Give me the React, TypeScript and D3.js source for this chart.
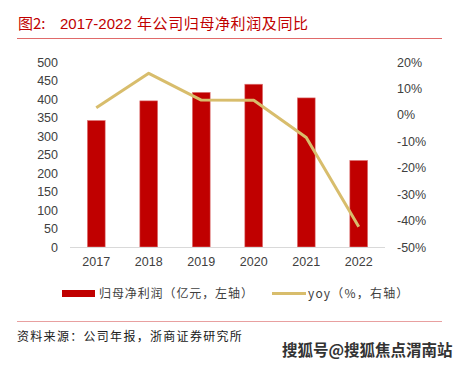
import React from 'react';
import * as d3 from 'd3';

const years = ['2017', '2018', '2019', '2020', '2021', '2022'];
const profit = [342, 395, 418, 440, 403, 234];
const yoy = [2.7, 15.7, 5.6, 5.5, -8.6, -42.3];
const leftTicks = [0, 50, 100, 150, 200, 250, 300, 350, 400, 450, 500];
const rightTicks = [20, 10, 0, -10, -20, -30, -40, -50];

const CN = '"Noto Sans CJK SC", "Liberation Sans", sans-serif';
const NUM = '"Liberation Sans", Arial, sans-serif';

const App = () => {
  const x = d3.scaleBand().domain(years).range([70, 385]).paddingInner(0.66).paddingOuter(0.33);
  const yL = d3.scaleLinear().domain([0, 500]).range([247, 62]);
  const yR = d3.scaleLinear().domain([-50, 20]).range([247, 62]);

  const line = d3.line<number>()
    .x((_, i) => (x(years[i]) as number) + x.bandwidth() / 2)
    .y(d => yR(d));

  return (
    <svg width={465} height={366} style={{ position: 'absolute', left: 0, top: 0, background: '#fff' }}>
      <text y={29} fill="#c00000" fontSize={15} fontFamily={CN}>
        <tspan x={18}>图2:</tspan>
        <tspan x={60} fontFamily={NUM}>2017-2022</tspan>
        <tspan x={137} letterSpacing={0.6}>年公司归母净利润及同比</tspan>
      </text>
      <line x1={17} x2={442} y1={38.5} y2={38.5} stroke="#e06a6a" strokeWidth={1} />

      {leftTicks.map(t => (
        <text key={t} x={58} y={yL(t) + 4.5} textAnchor="end" fontSize={12.5} fill="#404040" fontFamily={NUM}>{t}</text>
      ))}
      {rightTicks.map(t => (
        <text key={t} x={397} y={yR(t) + 4.5} fontSize={12.5} fill="#404040" fontFamily={NUM}>{t}%</text>
      ))}

      {profit.map((v, i) => (
        <rect key={years[i]} x={x(years[i])} y={yL(v)} width={x.bandwidth()} height={yL(0) - yL(v)}
          fill="#c00000" stroke="#e08080" strokeWidth={0.6} />
      ))}
      <line x1={70} x2={385} y1={247.5} y2={247.5} stroke="#d9d9d9" strokeWidth={1} />

      <path d={line(yoy) || ''} fill="none" stroke="#d8bd6c" strokeWidth={3} strokeLinejoin="round" />

      {years.map(yr => (
        <text key={yr} x={(x(yr) as number) + x.bandwidth() / 2} y={266} textAnchor="middle" fontSize={12.5} fill="#404040" fontFamily={NUM}>{yr}</text>
      ))}

      <rect x={62} y={290} width={33} height={7} fill="#c00000" />
      <text x={99} y={297.5} fontSize={12} fill="#404040" fontFamily={CN} letterSpacing={0.9}>归母净利润（亿元，左轴）</text>
      <line x1={272} x2={306} y1={293.5} y2={293.5} stroke="#d8bd6c" strokeWidth={3} />
      <text x={308} y={297.5} fontSize={12} fill="#404040" fontFamily={CN} letterSpacing={1.2}>yoy（%，右轴）</text>

      <line x1={17} x2={442} y1={321.5} y2={321.5} stroke="#e8a0a0" strokeWidth={1} />
      <text x={17} y={341} fontSize={12} fill="#202020" fontFamily={CN} letterSpacing={1.3}>资料来源：公司年报，浙商证券研究所</text>

      <text x={282} y={356} fontSize={15.5} fontWeight="bold" fill="#333" stroke="#fff" strokeWidth={2.5}
        paintOrder="stroke" fontFamily={CN}>搜狐号@搜狐焦点渭南站</text>
    </svg>
  );
};

export default App;
